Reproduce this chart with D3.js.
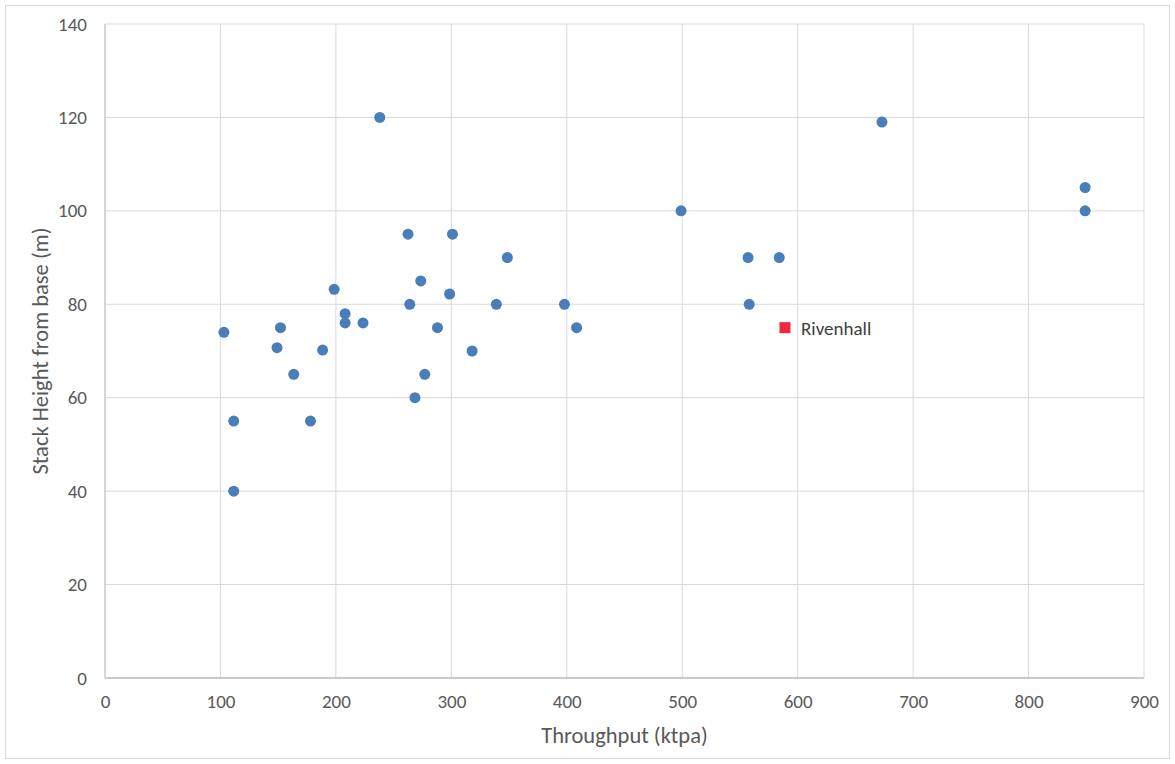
<!DOCTYPE html>
<html>
<head>
<meta charset="utf-8">
<script src="https://cdn.jsdelivr.net/npm/d3@7"></script>
<style>
  body { margin: 0; background: #fff; }
  svg { display: block; font-family: Carlito, "Liberation Sans Narrow", "Open Sans", sans-serif; }
</style>
</head>
<body>
<svg width="1175" height="764"></svg>
<script>
// plant throughput (ktpa) vs stack height (m)
const throughput = [103, 111.5, 111.5, 149, 152, 163.5, 178, 188.5, 198.5, 208, 208, 223.5,
  238, 262.5, 264, 268.5, 273.5, 277, 288, 298.5, 301, 318, 339, 348.5,
  398, 408.5, 499, 557, 558, 584, 673, 849, 849];
const stackHeight = [74, 55, 40, 70.7, 75, 65, 55, 70.2, 83.2, 78, 76, 76,
  120, 95, 80, 60, 85, 65, 75, 82.2, 95, 70, 80, 90,
  80, 75, 100, 90, 80, 90, 119, 105, 100];
const highlight = { name: 'Rivenhall', throughput: 589, height: 75 };
const xTicks = [0, 100, 200, 300, 400, 500, 600, 700, 800, 900];
const yTicks = [0, 20, 40, 60, 80, 100, 120, 140];

const svg = d3.select('svg');
const margin = { top: 24, right: 31, bottom: 86, left: 105 };
const width = 1175, height = 764;

const x = d3.scaleLinear().domain([0, 900]).range([margin.left, width - margin.right]);
const y = d3.scaleLinear().domain([0, 140]).range([height - margin.bottom, margin.top]);

// chart area border
svg.append('rect')
  .attr('x', 5.5).attr('y', 5.5)
  .attr('width', width - 11).attr('height', height - 11)
  .attr('fill', 'none').attr('stroke', '#d9d9d9');

const grid = svg.append('g');
grid.selectAll('.gx').data(xTicks).enter().append('line')
  .attr('x1', (d) => x(d)).attr('x2', (d) => x(d))
  .attr('y1', y(0)).attr('y2', y(140))
  .attr('stroke', '#d9d9d9').attr('stroke-width', 1);
grid.selectAll('.gy').data(yTicks).enter().append('line')
  .attr('x1', x(0)).attr('x2', x(900))
  .attr('y1', (d) => y(d)).attr('y2', (d) => y(d))
  .attr('stroke', '#d9d9d9').attr('stroke-width', 1);

// axis lines
svg.append('line')
  .attr('x1', x(0)).attr('x2', x(900)).attr('y1', y(0)).attr('y2', y(0))
  .attr('stroke', '#bfbfbf').attr('stroke-width', 1.5);
svg.append('line')
  .attr('x1', x(0)).attr('x2', x(0)).attr('y1', y(0)).attr('y2', y(140))
  .attr('stroke', '#bfbfbf').attr('stroke-width', 1);

const xAxis = d3.axisBottom(x).tickValues(xTicks).tickSize(0).tickPadding(17);
svg.append('g').attr('transform', `translate(0,${y(0)})`).call(xAxis)
  .attr('font-family', null).attr('font-size', null)
  .call((g) => g.select('.domain').remove())
  .selectAll('text').attr('font-size', 19).attr('fill', '#595959');

const yAxis = d3.axisLeft(y).tickValues(yTicks).tickSize(0).tickPadding(18);
svg.append('g').attr('transform', `translate(${x(0)},0)`).call(yAxis)
  .attr('font-family', null).attr('font-size', null)
  .call((g) => g.select('.domain').remove())
  .selectAll('text').attr('font-size', 19).attr('fill', '#595959');

svg.append('text')
  .attr('x', (x(0) + x(900)) / 2).attr('y', 743)
  .attr('text-anchor', 'middle').attr('font-size', 22.5).attr('fill', '#595959')
  .text('Throughput (ktpa)');

svg.append('text')
  .attr('transform', `translate(48,${(y(0) + y(140)) / 2}) rotate(-90)`)
  .attr('text-anchor', 'middle').attr('font-size', 22.5).attr('fill', '#595959')
  .text('Stack Height from base (m)');

// points
svg.append('g').selectAll('circle')
  .data(d3.zip(throughput, stackHeight)).enter().append('circle')
  .attr('cx', (d) => x(d[0])).attr('cy', (d) => y(d[1]))
  .attr('r', 5.5).attr('fill', '#4a7ebb');

const s = 11;
svg.append('rect')
  .attr('x', x(highlight.throughput) - s / 2).attr('y', y(highlight.height) - s / 2)
  .attr('width', s).attr('height', s).attr('fill', '#ee2a3c');
svg.append('text')
  .attr('x', x(highlight.throughput) + 16).attr('y', y(highlight.height) + 7)
  .attr('font-size', 19).attr('fill', '#404040')
  .text(highlight.name);
</script>
</body>
</html>
